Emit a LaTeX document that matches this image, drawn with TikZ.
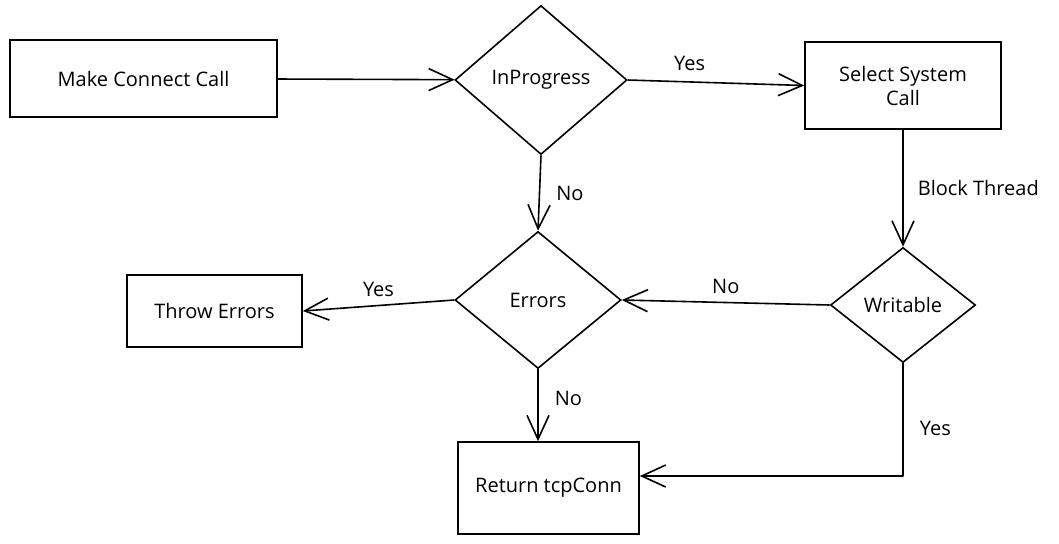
\documentclass[tikz,border=0pt]{standalone}
\usepackage{fontspec}
\setmainfont{Open Sans}
\usepackage{tikz}
\usetikzlibrary{shapes.geometric, arrows.meta, positioning}

\begin{document}
\begin{tikzpicture}[
    x=0.5pt, y=-0.5pt,
    every node/.style={font=\normalsize},
    procbox/.style={draw, line width=0.8pt, inner sep=0pt, align=center},
    decision/.style={diamond, draw, line width=0.8pt, inner sep=0pt},
    arrowstyle/.style={-{Straight Barb[length=12pt, width=11pt]}, line width=0.8pt, line join=round},
    edgelabel/.style={inner sep=2pt}
]

% 画布范围
\useasboundingbox (0,0) rectangle (1059,543);

% 流程框
\node[procbox, minimum width=133.5pt, minimum height=38.5pt] (connect) at (143.5,78.5) {Make Connect Call};
\node[procbox, minimum width=98pt,    minimum height=43.5pt] (select)  at (903,85.5)   {Select System\\Call};
\node[procbox, minimum width=87.5pt,  minimum height=36pt]   (throw)   at (214.5,311)  {Throw Errors};
\node[procbox, minimum width=90.5pt,  minimum height=46pt]   (ret)     at (548.5,488)  {Return tcpConn};

% 判断框
\node[decision, minimum width=86pt, minimum height=74.5pt] (inprog)   at (541,80)  {InProgress};
\node[decision, minimum width=83pt, minimum height=68.5pt] (errors)   at (538,300) {Errors};
\node[decision, minimum width=72.5pt, minimum height=57.5pt] (writable) at (903,305) {Writable};

% 连线
\draw[arrowstyle] (connect) -- (inprog);
\draw[arrowstyle] (inprog.east) -- (select.west)
    node[edgelabel, pos=0.35, above=3pt] {Yes};
\draw[arrowstyle] (inprog.south) -- (errors.north)
    node[edgelabel, midway, right=6pt] {No};
\draw[arrowstyle] (select.south) -- (writable.north)
    node[edgelabel, midway, right=5pt] {Block Thread};
\draw[arrowstyle] (writable.west) -- (errors.east)
    node[edgelabel, midway, above=2pt] {No};
\draw[arrowstyle] (errors.west) -- (throw.east)
    node[edgelabel, midway, above=2pt] {Yes};
\draw[arrowstyle] (errors.south) -- (errors.south |- ret.north)
    node[edgelabel, pos=0.4, right=6pt] {No};
\draw[arrowstyle] (writable.south) |- ([yshift=6pt]ret.east)
    node[edgelabel, pos=0.29, right=6pt] {Yes};

\end{tikzpicture}
\end{document}
